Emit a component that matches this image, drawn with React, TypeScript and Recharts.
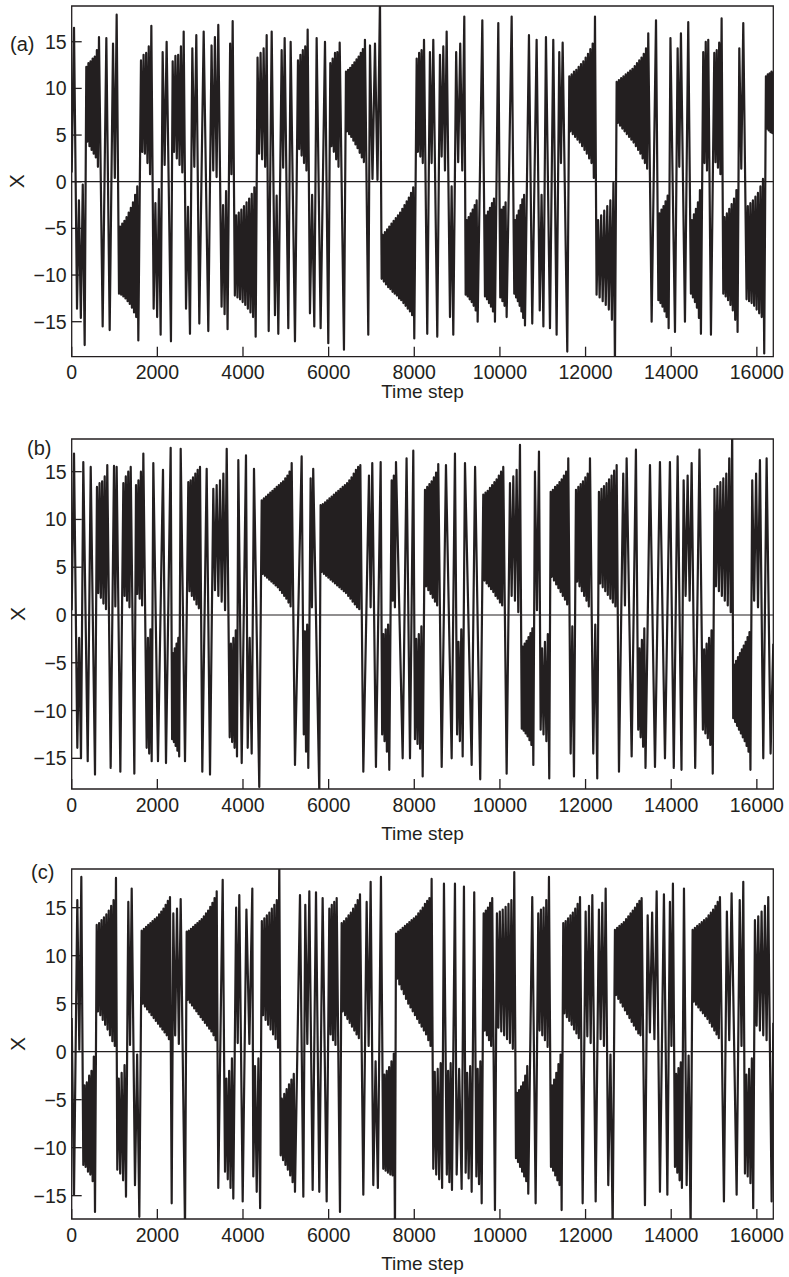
import React from "react";
import { LineChart, Line, XAxis, YAxis, ReferenceLine, ReferenceArea } from "recharts";

const timeTicks = [0, 2000, 4000, 6000, 8000, 10000, 12000, 14000, 16000];
const xTicks = [-15, -10, -5, 0, 5, 10, 15];
const panelNames = ["(a)", "(b)", "(c)"];

// each run: [first step, last step, then the turning values,
// outer and inner extremes alternating]
const runsA: number[][] = [
  [0, 54, 1.0, 16.5],
  [124, 303, -13.6, -2.0, -14.6, -0.3, -17.5],
  [341, 637, 12.3, 4.3, 12.7, 3.8, 12.9, 3.4, 13.2, 3.0, 13.4, 2.6, 14.1, 1.6, 15.5],
  [723, 723, -15.5],
  [809, 809, 15.4],
  [887, 887, -15.9],
  [965, 1050, 14.8, 0.4, 17.9],
  [1105, 1556, -12.0, -4.8, -12.1, -4.5, -12.3, -4.2, -12.5, -3.8, -12.8, -3.3, -13.1, -2.8, -13.5, -2.2, -14.0, -1.4, -14.5, -0.5, -17.0],
  [1618, 1860, 13.0, 3.2, 13.6, 3.0, 13.8, 2.0, 14.5, 0.8, 16.7],
  [1914, 2077, -13.6, -2.3, -14.5, -0.8, -16.4],
  [2124, 2217, 13.9, 1.8, 15.0],
  [2318, 2318, -17.1],
  [2358, 2615, 12.9, 3.2, 13.5, 2.5, 13.6, 1.8, 14.5, 1.0, 16.1],
  [2670, 2762, -13.6, -2.7, -16.3],
  [2817, 2910, 14.3, 1.6, 15.7],
  [2980, 2980, -15.2],
  [3082, 3082, 16.1],
  [3190, 3190, -16.0],
  [3266, 3423, 14.6, 1.2, 15.5, 0.5, 16.8],
  [3500, 3640, -13.4, -2.5, -14.2, -1.0, -15.8],
  [3700, 3759, 14.8, 0.8, 17.2],
  [3810, 4296, -12.2, -3.6, -12.4, -3.3, -12.6, -3.0, -12.9, -2.6, -13.2, -2.2, -13.6, -1.8, -14.0, -1.3, -14.5, -0.6, -16.6],
  [4340, 4553, 13.3, 3.0, 13.8, 2.4, 14.3, 1.6, 15.7],
  [4600, 4600, -16.0],
  [4670, 4670, 16.1],
  [4747, 4825, -14.3, -1.5, -16.3],
  [4903, 4973, 14.1, 1.5, 15.4],
  [5058, 5058, -15.7],
  [5113, 5113, 15.0],
  [5214, 5214, -17.1],
  [5284, 5510, 13.0, 3.5, 13.6, 2.8, 14.1, 2.0, 14.5, 1.2, 16.3],
  [5564, 5665, -14.1, -1.4, -15.5],
  [5720, 5720, 15.4],
  [5813, 5813, -15.7],
  [5915, 5915, 15.0],
  [5992, 5992, -17.3],
  [6039, 6258, 12.7, 3.8, 13.2, 3.2, 13.8, 2.4, 13.9, 1.6, 14.9],
  [6358, 6358, -18.0],
  [6405, 6848, 11.8, 5.4, 12.0, 5.1, 12.2, 4.8, 12.5, 4.4, 12.8, 4.0, 13.1, 3.6, 13.4, 3.1, 13.8, 2.6, 14.2, 2.1, 15.2],
  [6926, 6926, -16.4],
  [6966, 7199, 14.6, 0.3, 14.8, 0.2, 19.5],
  [7238, 8000, -10.4, -5.7, -10.7, -5.4, -11.0, -5.1, -11.3, -4.8, -11.5, -4.5, -11.8, -4.2, -12.0, -3.9, -12.2, -3.6, -12.5, -3.3, -12.7, -2.9, -13.0, -2.5, -13.3, -2.1, -13.6, -1.7, -13.9, -1.2, -14.3, -0.6, -16.8],
  [8056, 8227, 13.2, 3.2, 13.8, 2.7, 14.1, 2.0, 15.2],
  [8303, 8303, -16.3],
  [8366, 8444, 13.9, 2.0, 15.2],
  [8537, 8537, -16.6],
  [8600, 8756, 13.6, 2.7, 14.5, 1.2, 16.1],
  [8834, 8911, -14.5, -0.5, -16.4],
  [8978, 9168, 13.9, 2.1, 14.8, 1.2, 17.7],
  [9200, 9480, -12.1, -4.1, -12.3, -3.8, -12.6, -3.4, -12.9, -3.0, -13.3, -2.5, -13.8, -2.0, -15.0],
  [9589, 9589, 17.3],
  [9651, 9884, -12.3, -3.6, -12.6, -3.2, -13.0, -2.8, -13.4, -2.3, -13.9, -1.8, -15.0],
  [9962, 9962, 17.0],
  [10008, 10157, -12.4, -3.0, -12.8, -2.7, -13.3, -2.2, -14.5],
  [10274, 10274, 17.7],
  [10335, 10585, -12.0, -4.1, -12.4, -3.6, -12.8, -3.1, -13.3, -2.5, -13.9, -1.9, -14.6, -1.4, -15.4],
  [10678, 10678, 15.7],
  [10755, 10755, -15.2],
  [10857, 10857, 15.2],
  [10930, 11015, -13.8, -1.4, -15.5],
  [11075, 11075, 15.5],
  [11169, 11169, -15.7],
  [11246, 11246, 15.2],
  [11324, 11324, -16.4],
  [11386, 11465, 13.9, 2.0, 14.9],
  [11573, 11573, -18.2],
  [11620, 12220, 11.3, 5.4, 11.5, 5.1, 11.8, 4.8, 12.0, 4.5, 12.3, 4.2, 12.6, 3.8, 12.9, 3.4, 13.3, 3.0, 13.7, 2.5, 14.2, 2.0, 14.8, 0.4, 17.7],
  [12257, 12686, -12.1, -4.1, -12.4, -3.6, -12.8, -3.1, -13.2, -2.6, -13.7, -2.0, -14.8, -0.1, -19.5],
  [12726, 13464, 10.7, 6.3, 10.9, 6.0, 11.1, 5.7, 11.3, 5.4, 11.5, 5.1, 11.7, 4.8, 11.9, 4.5, 12.1, 4.2, 12.4, 3.8, 12.7, 3.4, 13.0, 3.0, 13.3, 2.5, 13.7, 2.0, 14.3, 1.4, 15.9],
  [13543, 13543, -15.0],
  [13645, 13645, 17.3],
  [13700, 13940, -12.7, -3.4, -13.0, -3.0, -13.4, -2.6, -13.9, -2.1, -14.5, -1.5, -15.7],
  [13982, 13982, 15.4],
  [14088, 14088, -16.1],
  [14150, 14227, 14.3, 1.6, 15.9],
  [14321, 14321, -15.0],
  [14398, 14398, 17.1],
  [14460, 14694, -12.0, -4.1, -12.4, -3.5, -12.9, -2.9, -13.5, -2.2, -14.6, -0.9, -16.3],
  [14748, 14865, 13.9, 2.0, 15.0, 1.2, 15.2],
  [14928, 14928, -16.4],
  [15006, 15177, 13.8, 2.1, 14.1, 1.5, 14.9, 0.8, 17.5],
  [15216, 15550, -12.0, -3.8, -12.3, -3.4, -12.7, -2.9, -13.2, -2.4, -13.8, -1.8, -14.8, -0.9, -16.1],
  [15590, 15683, 14.3, 1.4, 17.0],
  [15760, 16172, -12.6, -2.6, -12.8, -2.3, -13.0, -2.0, -13.3, -1.6, -13.7, -1.2, -14.1, -0.5, -14.5, 0.3, -18.4],
  [16212, 16384, 11.3, 5.7, 11.5, 5.5, 11.6, 5.3, 11.8, 5.2, 11.8],
];

const runsB: number[][] = [
  [0, 54, 0.5, 16.9],
  [131, 217, -13.9, -2.4, -15.0],
  [271, 271, 16.0],
  [374, 374, -15.3],
  [444, 444, 15.5],
  [544, 544, -16.7],
  [590, 831, 13.4, 2.3, 13.8, 1.8, 14.0, 1.2, 14.5, 0.6, 15.7],
  [910, 910, -16.0],
  [988, 1050, 15.6, 0.9, 15.5],
  [1136, 1136, -16.4],
  [1206, 1378, 13.8, 2.0, 14.5, 1.5, 15.0, 0.8, 15.5],
  [1463, 1463, -16.6],
  [1502, 1673, 13.6, 2.2, 14.1, 1.7, 15.0, 1.0, 16.9],
  [1751, 1868, -13.9, -2.4, -14.5, -1.5, -15.3],
  [1906, 1906, 15.9],
  [2015, 2015, -15.3],
  [2132, 2132, 15.2],
  [2202, 2202, -15.5],
  [2311, 2311, 17.5],
  [2345, 2510, -13.0, -4.0, -13.3, -3.5, -13.7, -3.0, -14.2, -2.4, -14.8],
  [2545, 2545, 17.4],
  [2646, 2646, -15.3],
  [2723, 2996, 13.9, 2.5, 14.1, 2.0, 14.4, 1.6, 14.8, 1.1, 15.2, 0.7, 15.5],
  [3050, 3050, -16.4],
  [3152, 3152, 15.3],
  [3230, 3230, -16.7],
  [3307, 3620, 13.2, 2.6, 13.6, 2.0, 14.1, 1.4, 14.8, 0.5, 17.4],
  [3690, 3860, -12.8, -3.0, -13.3, -2.4, -13.9, -1.6, -14.8],
  [3891, 3891, 16.2],
  [3970, 3970, -15.5],
  [4070, 4070, 16.7],
  [4110, 4203, -13.9, -2.4, -14.5],
  [4257, 4257, 15.3],
  [4380, 4380, -18.0],
  [4437, 5137, 12.0, 4.3, 12.2, 4.1, 12.4, 3.9, 12.6, 3.7, 12.8, 3.5, 13.0, 3.3, 13.2, 3.1, 13.4, 2.9, 13.6, 2.6, 13.8, 2.3, 14.0, 2.0, 14.3, 1.7, 14.6, 1.3, 15.0, 0.9, 15.9],
  [5214, 5214, -15.7],
  [5370, 5370, 16.6],
  [5420, 5525, -12.5, -1.7, -14.3, -1.0, -16.0],
  [5580, 5640, 14.3, 0.8, 15.3],
  [5782, 5782, -18.6],
  [5813, 6740, 11.5, 4.5, 11.6, 4.3, 11.8, 4.1, 12.0, 3.9, 12.2, 3.7, 12.4, 3.5, 12.6, 3.3, 12.8, 3.1, 13.0, 2.9, 13.2, 2.7, 13.4, 2.5, 13.6, 2.3, 13.8, 2.0, 14.1, 1.7, 14.4, 1.4, 14.8, 1.1, 15.2, 0.8, 15.5, 0.6, 15.7],
  [6810, 6810, -16.4],
  [6942, 7019, 14.6, 0.8, 15.9],
  [7105, 7105, -15.9],
  [7215, 7215, 16.0],
  [7250, 7416, -12.5, -2.0, -13.2, -1.5, -14.3, -1.0, -16.2],
  [7472, 7573, 14.1, 1.5, 14.6, 0.8, 16.0],
  [7729, 7729, -15.0],
  [7820, 7820, 16.4],
  [7900, 7900, -15.0],
  [7977, 7977, 17.2],
  [8016, 8196, -13.0, -2.5, -13.5, -2.0, -14.0, -1.2, -16.9],
  [8250, 8560, 13.1, 3.0, 13.4, 2.6, 13.7, 2.2, 14.0, 1.8, 14.4, 1.4, 14.9, 1.0, 15.8],
  [8640, 8640, -15.9],
  [8740, 8740, 15.7],
  [8873, 8873, -15.0],
  [8950, 8950, 16.9],
  [9000, 9130, -12.5, -2.8, -13.2, -1.5, -14.8],
  [9184, 9184, 15.9],
  [9340, 9340, -15.7],
  [9420, 9420, 15.5],
  [9540, 9540, -17.2],
  [9611, 10078, 12.6, 3.6, 12.8, 3.3, 13.0, 3.0, 13.3, 2.7, 13.6, 2.4, 13.9, 2.0, 14.2, 1.7, 14.6, 1.3, 15.0, 1.0, 15.5],
  [10157, 10157, -16.6],
  [10235, 10468, 13.8, 2.0, 14.5, 1.5, 15.2, 0.3, 17.8],
  [10510, 10780, -11.9, -3.3, -12.1, -3.0, -12.4, -2.7, -12.7, -2.3, -13.1, -1.9, -13.6, -1.4, -15.7],
  [10818, 10912, 15.0, 0.5, 17.1],
  [10951, 11152, -12.0, -3.5, -12.5, -2.8, -13.2, -2.0, -17.1],
  [11185, 11596, 12.9, 4.0, 13.1, 3.6, 13.4, 3.2, 13.6, 2.8, 13.9, 2.4, 14.2, 2.0, 14.6, 1.6, 15.0, 1.1, 16.4],
  [11652, 11729, -14.5, -1.2, -16.9],
  [11776, 12103, 13.1, 3.5, 13.4, 3.0, 13.7, 2.5, 14.0, 2.0, 14.4, 1.5, 14.8, 0.9, 16.4],
  [12180, 12273, -14.5, -1.0, -17.1],
  [12312, 12726, 12.9, 3.3, 13.2, 2.9, 13.5, 2.5, 13.8, 2.1, 14.2, 1.7, 14.6, 1.3, 15.1, 0.9, 15.7],
  [12780, 12780, -16.4],
  [12880, 12959, 14.8, 1.0, 16.4],
  [13076, 13076, -14.8],
  [13176, 13176, 17.3],
  [13230, 13400, -12.0, -3.5, -12.8, -2.6, -13.8, -1.4, -16.0],
  [13504, 13504, 15.7],
  [13621, 13621, -15.9],
  [13737, 13737, 16.0],
  [13854, 13854, -15.0],
  [13970, 13970, 16.0],
  [14060, 14060, -16.0],
  [14150, 14150, 16.6],
  [14240, 14240, -16.2],
  [14290, 14477, 14.1, 2.0, 14.6, 1.5, 15.9],
  [14560, 14560, -16.0],
  [14660, 14660, 17.3],
  [14740, 14970, -12.0, -3.6, -12.4, -3.0, -12.9, -2.4, -13.6, -1.6, -16.6],
  [15010, 15424, 13.2, 3.0, 13.5, 2.5, 13.9, 2.0, 14.3, 1.5, 14.8, 1.0, 16.4, 0.3, 19.5],
  [15448, 15850, -10.8, -5.2, -11.2, -4.8, -11.6, -4.4, -12.0, -4.0, -12.4, -3.6, -12.8, -3.2, -13.2, -2.8, -13.7, -2.3, -14.3, -1.8, -16.2],
  [15892, 16072, 14.1, 1.5, 14.8, 0.8, 16.2],
  [16150, 16150, -15.0],
  [16228, 16228, 16.4],
  [16321, 16384, -14.5, -3.0],
];

const runsC: number[][] = [
  [0, 54, 3.5, -14.9],
  [131, 225, 15.8, 0.2, 18.2],
  [271, 544, -11.8, -3.5, -12.0, -3.2, -12.5, -2.5, -12.8, -2.0, -13.5, -0.5, -16.7],
  [584, 1034, 13.2, 4.2, 13.4, 3.8, 13.7, 3.3, 14.0, 2.8, 14.3, 2.3, 14.7, 1.7, 15.2, 1.1, 15.8, 0.6, 18.1],
  [1065, 1268, -12.3, -2.8, -12.7, -2.2, -13.4, -1.4, -15.1],
  [1322, 1401, 15.6, 0.7, 17.0],
  [1478, 1579, -13.9, -0.3, -17.2],
  [1634, 2295, 12.6, 5.0, 12.8, 4.7, 13.0, 4.4, 13.2, 4.1, 13.4, 3.8, 13.6, 3.5, 13.8, 3.2, 14.0, 2.9, 14.3, 2.6, 14.6, 2.3, 14.9, 2.0, 15.3, 1.7, 15.7, 1.3, 16.1],
  [2335, 2335, -15.8],
  [2373, 2545, 14.4, 1.7, 14.9, 0.8, 15.9],
  [2646, 2646, -18.5],
  [2685, 3386, 12.5, 5.4, 12.6, 5.1, 12.8, 4.8, 13.0, 4.5, 13.2, 4.2, 13.4, 3.9, 13.6, 3.6, 13.8, 3.3, 14.1, 3.0, 14.4, 2.7, 14.7, 2.4, 15.1, 2.1, 15.5, 1.7, 16.0, 1.2, 16.7],
  [3423, 3423, -14.2],
  [3526, 3526, 17.9],
  [3580, 3774, -12.5, -2.8, -13.3, -2.0, -14.2, -0.7, -15.3],
  [3840, 3914, 15.0, 0.9, 16.3],
  [3993, 3993, -15.6],
  [4080, 4218, 14.8, 0.8, 17.0],
  [4241, 4400, -13.0, -1.5, -14.6, -0.7, -16.3],
  [4440, 4848, 13.6, 3.8, 13.9, 3.3, 14.2, 2.8, 14.5, 2.3, 14.9, 1.8, 15.3, 1.3, 15.8, 0.4, 19.5],
  [4880, 5214, -10.8, -4.9, -11.3, -4.4, -11.8, -3.9, -12.3, -3.4, -12.9, -2.9, -13.6, -2.3, -14.6],
  [5331, 5331, 16.3],
  [5409, 5409, -15.1],
  [5455, 5549, 15.3, 0.8, 16.7],
  [5627, 5627, -14.4],
  [5705, 5705, 16.6],
  [5782, 5782, -14.6],
  [5860, 5860, 16.0],
  [5954, 5954, -15.6],
  [6016, 6188, 14.9, 1.8, 15.3, 1.2, 15.6, 0.7, 16.0],
  [6265, 6265, -16.7],
  [6304, 6732, 13.4, 4.2, 13.6, 3.8, 13.9, 3.4, 14.2, 3.0, 14.5, 2.6, 14.9, 2.2, 15.3, 1.8, 15.8, 1.4, 16.4],
  [6810, 6810, -14.9],
  [6888, 6981, 15.6, 0.6, 17.7],
  [7043, 7150, -13.9, -1.0, -14.2],
  [7222, 7222, 18.2],
  [7276, 7549, -12.2, -2.4, -12.4, -2.0, -12.6, -1.6, -12.8, -1.0, -12.9, -0.2, -19.0],
  [7573, 8405, 12.3, 7.6, 12.5, 7.0, 12.7, 6.5, 12.9, 6.0, 13.1, 5.5, 13.3, 5.0, 13.5, 4.6, 13.7, 4.2, 13.9, 3.8, 14.1, 3.4, 14.4, 3.0, 14.7, 2.6, 15.0, 2.2, 15.4, 1.8, 15.7, 1.2, 16.0, 0.6, 18.0],
  [8444, 8650, -12.2, -2.1, -12.8, -1.8, -13.3, -1.2, -14.2],
  [8693, 8693, 17.5],
  [8760, 8880, -12.8, -2.0, -13.6, -1.2, -14.4],
  [8950, 8950, 17.5],
  [8990, 9106, -12.8, -1.8, -14.3],
  [9160, 9160, 17.2],
  [9200, 9340, -12.6, -2.2, -13.2, -1.5, -14.6],
  [9400, 9400, 16.6],
  [9450, 9574, -13.0, -1.8, -13.8, -1.0, -15.8],
  [9620, 9820, 14.4, 2.2, 14.7, 1.7, 15.0, 1.2, 15.5, 0.6, 16.0],
  [9884, 9884, -16.5],
  [9930, 10335, 14.4, 2.5, 14.6, 2.1, 14.8, 1.7, 15.1, 1.3, 15.4, 0.9, 15.8, 0.3, 18.7],
  [10375, 10662, -11.1, -4.3, -11.5, -4.0, -12.0, -3.6, -12.5, -3.2, -13.0, -2.5, -13.5, -1.5, -14.8],
  [10755, 10755, 16.1],
  [10834, 10834, -15.8],
  [10895, 11145, 14.4, 2.2, 14.8, 1.7, 15.0, 1.2, 15.8, 0.5, 18.2],
  [11192, 11441, -12.0, -3.5, -12.4, -2.9, -12.9, -2.2, -13.4, -1.3, -13.9, -0.3, -16.5],
  [11479, 11870, 13.4, 4.0, 13.6, 3.6, 13.9, 3.2, 14.2, 2.8, 14.5, 2.3, 14.9, 1.9, 15.4, 1.4, 16.1],
  [11932, 11932, -15.8],
  [12002, 12158, 14.6, 1.6, 15.2, 0.9, 16.3],
  [12236, 12236, -15.6],
  [12312, 12469, 14.8, 1.3, 15.5, 0.6, 17.0],
  [12530, 12633, -13.9, -0.3, -18.5],
  [12686, 13309, 12.7, 5.9, 12.9, 5.5, 13.1, 5.1, 13.3, 4.7, 13.5, 4.3, 13.8, 3.9, 14.1, 3.5, 14.4, 3.1, 14.7, 2.7, 15.0, 2.3, 15.4, 1.9, 15.7, 1.7, 16.0],
  [13387, 13387, -16.0],
  [13450, 13660, 14.2, 2.0, 14.5, 1.3, 16.7],
  [13737, 13737, -14.6],
  [13830, 13830, 16.4],
  [13910, 13910, -14.9],
  [13970, 14040, 15.6, 0.6, 17.5],
  [14088, 14250, -12.0, -2.3, -12.6, -1.7, -13.4, -1.1, -14.2],
  [14298, 14298, 17.0],
  [14360, 14453, -13.9, -0.4, -18.5],
  [14500, 15138, 12.7, 5.2, 12.9, 4.9, 13.1, 4.6, 13.3, 4.3, 13.5, 4.0, 13.7, 3.7, 13.9, 3.4, 14.2, 3.0, 14.5, 2.6, 14.8, 2.2, 15.2, 1.8, 15.6, 1.4, 16.1],
  [15231, 15231, -15.6],
  [15300, 15410, 14.6, 1.2, 16.5],
  [15528, 15528, -14.9],
  [15600, 15683, 15.8, 0.6, 17.7],
  [15722, 15915, -12.7, -2.4, -13.0, -1.8, -13.7, -0.7, -16.3],
  [15955, 16266, 13.7, 2.7, 14.1, 2.2, 14.6, 1.7, 15.2, 1.2, 16.1],
  [16345, 16384, -15.6, 3.0],
];

const ink = "#231f20";
const font = "'Liberation Sans', Arial, Helvetica, sans-serif";
const plotLeft = 71.7;
const plotRight = 773.3;
const yAxisWidth = 60;
const xAxisHeight = 30;

function toPoints(runs: number[][]) {
  const pts: { t: number; x: number }[] = [];
  for (const [t0, t1, ...vals] of runs) {
    vals.forEach((v, i) => {
      const t = vals.length > 1 ? t0 + ((t1 - t0) * i) / (vals.length - 1) : t0;
      pts.push({ t, x: v });
    });
  }
  return pts;
}

function StepTick(props: any) {
  const { x, y, payload } = props;
  return (
    <g>
      <line x1={x} x2={x} y1={y} y2={y - 10} stroke={ink} strokeWidth={1.3} />
      <text x={x} y={y + 22.5} textAnchor="middle" fontSize={19.5} fontFamily={font} fill={ink}>
        {payload.value}
      </text>
    </g>
  );
}

function ValueTick(props: any) {
  const { x, y, payload } = props;
  const v = payload.value;
  return (
    <g>
      <line x1={x} x2={x + 10} y1={y} y2={y} stroke={ink} strokeWidth={1.3} />
      <text x={x - 5} y={y + 7} textAnchor="end" fontSize={19.5} fontFamily={font} fill={ink}>
        {v < 0 ? `\u2212${-v}` : v}
      </text>
    </g>
  );
}

const panels = [
  { runs: runsA, top: 0, height: 400, plotTop: 6, plotBottom: 356.7, domain: [-18.75, 18.83] },
  { runs: runsB, top: 400, height: 430, plotTop: 439, plotBottom: 789, domain: [-18.21, 18.42] },
  { runs: runsC, top: 830, height: 447, plotTop: 869, plotBottom: 1219, domain: [-17.43, 19.03] },
];

const labelSpots = [
  { x: 10, y: 51, xlabel: 398 },
  { x: 27, y: 455, xlabel: 840 },
  { x: 31, y: 879, xlabel: 1270 },
];

function Panel({ p }: { p: (typeof panels)[number] }) {
  const data = toPoints(p.runs);
  const [lo, hi] = p.domain;
  return (
    <div style={{ position: "absolute", left: 0, top: p.top }}>
      <LineChart
        width={789}
        height={p.height}
        data={data}
        margin={{
          top: p.plotTop - p.top,
          right: 789 - plotRight,
          bottom: p.top + p.height - p.plotBottom - xAxisHeight,
          left: plotLeft - yAxisWidth,
        }}
      >
        <XAxis
          dataKey="t"
          type="number"
          domain={[0, 16384]}
          ticks={timeTicks}
          allowDataOverflow
          height={xAxisHeight}
          axisLine={false}
          tickLine={false}
          tickSize={0}
          tickMargin={0}
          interval={0}
          tick={StepTick}
        />
        <YAxis
          dataKey="x"
          type="number"
          domain={[lo, hi]}
          ticks={xTicks}
          allowDataOverflow
          width={yAxisWidth}
          axisLine={false}
          tickLine={false}
          tickSize={0}
          tickMargin={0}
          interval={0}
          tick={ValueTick}
        />
        <ReferenceArea x1={0} x2={16384} y1={lo} y2={hi} fill="none" stroke={ink} strokeWidth={1.3} />
        <ReferenceLine y={0} stroke={ink} strokeWidth={1.2} />
        <Line
          type="linear"
          dataKey="x"
          stroke={ink}
          strokeWidth={2.2}
          strokeLinejoin="round"
          dot={false}
          isAnimationActive={false}
        />
      </LineChart>
    </div>
  );
}

export default function App() {
  return (
    <div style={{ position: "absolute", left: 0, top: 0, width: 789, height: 1277, background: "#fff" }}>
      {panels.map((p, i) => (
        <Panel key={i} p={p} />
      ))}
      <svg width={789} height={1277} style={{ position: "absolute", left: 0, top: 0, pointerEvents: "none" }}>
        {panels.map((p, i) => {
          const mid = (p.plotTop + p.plotBottom) / 2;
          return (
            <g key={i} fontFamily={font} fill={ink}>
              <text x={labelSpots[i].x} y={labelSpots[i].y} fontSize={20}>
                {panelNames[i]}
              </text>
              <text
                x={17}
                y={mid}
                fontSize={21}
                textAnchor="middle"
                dominantBaseline="central"
                transform={`rotate(-90 17 ${mid})`}
              >
                X
              </text>
              <text x={422.5} y={labelSpots[i].xlabel} fontSize={19} textAnchor="middle">
                Time step
              </text>
            </g>
          );
        })}
      </svg>
    </div>
  );
}
